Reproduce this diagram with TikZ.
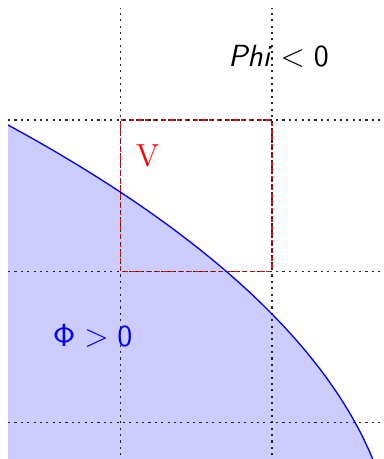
\documentclass[tikz,border=0pt]{standalone}
\begin{document}
\begin{tikzpicture}[x=2cm,y=2cm,
  gridline/.style={black!85,line width=0.5pt,dash pattern=on 0.8pt off 1.6pt},
  boxline/.style={red,line width=0.5pt,dash pattern=on 2pt off 1pt},
  curveline/.style={blue,line width=0.5pt},
  lbl/.style={inner sep=0pt,anchor=base}]
\useasboundingbox (-0.798,-1.24) rectangle (1.734,1.793);
\def\levelset{plot[domain=-1.35:1.05,samples=80,variable=\t] ({(-1.4144+sqrt(2.00053-0.1164*(0.4303*\t*\t+1.6911*\t-1)))/0.0582},\t)}
\begin{scope}
\clip (-0.745,-1.3) rectangle (1.8,1.74);
\fill[blue!20] \levelset -- (-0.9,-1.35) -- cycle;
\draw[boxline] (0,0) rectangle (1,1);
\foreach \x in {0,1} \draw[gridline] (\x,-1.3) -- (\x,1.74);
\foreach \y in {-1,0,1} \draw[gridline] (-0.745,\y) -- (1.8,\y);
\draw[curveline] \levelset;
\end{scope}
\node[lbl] (phineg) at (1.043,1.352) {\fontsize{11.5}{14}\selectfont $\textsf{\textit{Phi}} < \textsf{0}$};
\node[lbl,red] (v) at (0.177,0.696) {\fontsize{12}{14}\selectfont V};
\node[lbl,blue] (phipos) at (-0.186,-0.498) {\fontsize{11.5}{14}\selectfont $\mathsf{\Phi} > \textsf{0}$};
\end{tikzpicture}
\end{document}
